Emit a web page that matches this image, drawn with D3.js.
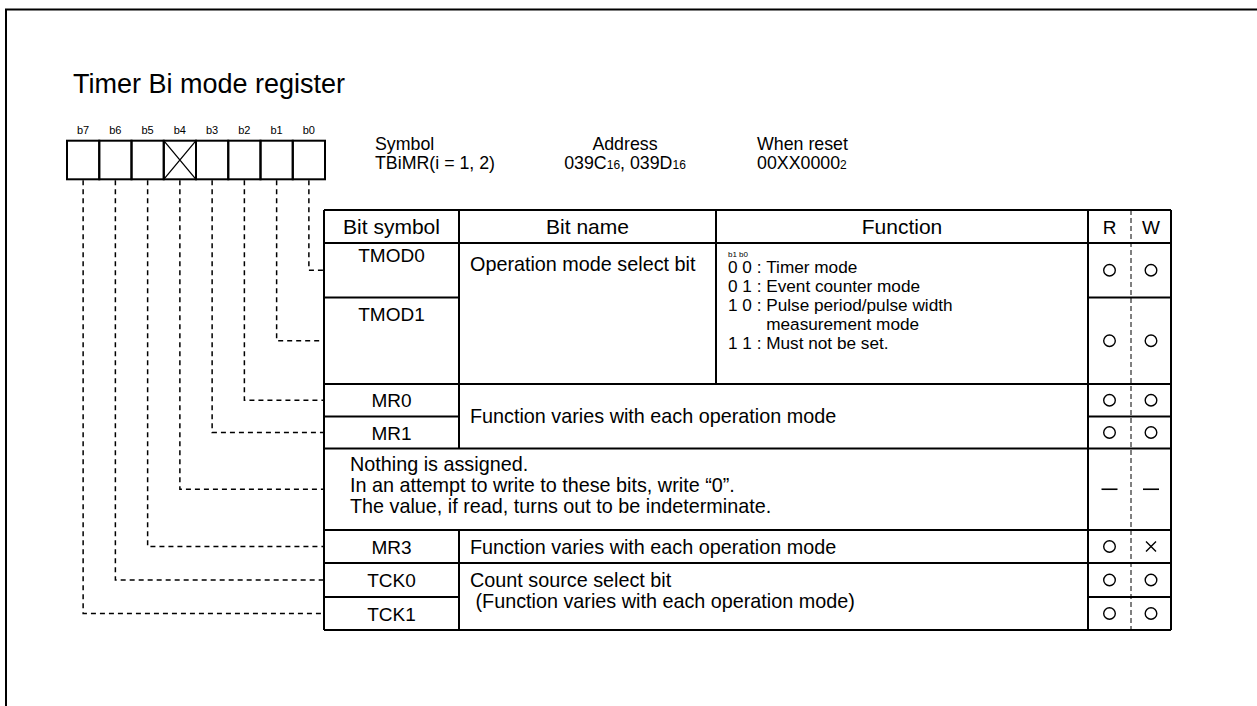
<!DOCTYPE html>
<html><head><meta charset="utf-8">
<script src="https://cdn.jsdelivr.net/npm/d3@7"></script>
<style>
body{margin:0;background:#fff}
svg{display:block}
text{font-family:"Liberation Sans",Arial,Helvetica,sans-serif;fill:#000}
</style>
</head><body>
<svg id="c" width="1257" height="706"></svg>
<script>
// ---------- data ----------
const title = "Timer Bi mode register";
const bitLabels = ["b7","b6","b5","b4","b3","b2","b1","b0"];
const reservedBits = ["b4"];
const infoHeads = ["Symbol","Address","When reset"];
const infoValues = [
  [["TBiMR(i = 1, 2)",0]],
  [["039C",0],["16",1],[", 039D",0],["16",1]],
  [["00XX0000",0],["2",1]]
];
const headers = ["Bit symbol","Bit name","Function","R","W"];
const rowSymbols = ["TMOD0","TMOD1","MR0","MR1","","MR3","TCK0","TCK1"];
const rowBits    = ["b0","b1","b2","b3","b4","b5","b6","b7"];
const readMarks  = ["O","O","O","O","-","O","O","O"];
const writeMarks = ["O","O","O","O","-","X","O","O"];
const bitNameGroups = [
  {rows:[0,1], kind:"nameFunc", name:["Operation mode select bit"]},
  {rows:[2,3], kind:"span", name:["Function varies with each operation mode"]},
  {rows:[4,4], kind:"full", name:["Nothing is assigned.","In an attempt to write to these bits, write \u201c0\u201d.","The value, if read, turns out to be indeterminate."]},
  {rows:[5,5], kind:"span", name:["Function varies with each operation mode"]},
  {rows:[6,7], kind:"span2", name:["Count source select bit"," (Function varies with each operation mode)"]}
];
const funcHeader = "b1 b0";
const funcLines = [
  ["0 0 : ","Timer mode"],
  ["0 1 : ","Event counter mode"],
  ["1 0 : ","Pulse period/pulse width"],
  ["","measurement mode"],
  ["1 1 : ","Must not be set."]
];

// ---------- layout ----------
const svg = d3.select("#c");

// outer frame
svg.append("path").attr("d","M6,720V9.5H1270").attr("fill","none").attr("stroke","#000").attr("stroke-width",2);

svg.append("text").attr("x",73).attr("y",93).attr("font-size",27).text(title);

// register boxes
const xBit = d3.scaleBand().domain(bitLabels).range([67,325]);
const boxTop = 140.7, boxBot = 179.3;
const reg = svg.append("g");
reg.selectAll("text.bl").data(bitLabels).join("text")
  .attr("x",d=>xBit(d)+xBit.bandwidth()/2).attr("y",134)
  .attr("text-anchor","middle").attr("font-size",11).text(d=>d);
reg.selectAll("rect.cell").data(bitLabels).join("rect")
  .attr("x",d=>xBit(d)).attr("y",boxTop).attr("width",xBit.bandwidth()).attr("height",boxBot-boxTop)
  .attr("fill","none").attr("stroke","#000").attr("stroke-width",2);
reservedBits.forEach(b=>{
  const x0=xBit(b), x1=x0+xBit.bandwidth();
  reg.append("path").attr("d",`M${x0},${boxTop}L${x1},${boxBot}M${x1},${boxTop}L${x0},${boxBot}`)
    .attr("stroke","#000").attr("stroke-width",1.3).attr("fill","none");
});

// info block
const infoFS = 17.8, subFS = 12;
const infoX = [{x:375,a:"start"},{x:625,a:"middle"},{x:757,a:"start"}];
infoHeads.forEach((h,i)=>{
  svg.append("text").attr("x",infoX[i].x).attr("y",150).attr("text-anchor",infoX[i].a).attr("font-size",infoFS).text(h);
  const t = svg.append("text").attr("x",infoX[i].x).attr("y",168.5).attr("text-anchor",infoX[i].a).attr("font-size",infoFS);
  infoValues[i].forEach(([s,sub])=>{ t.append("tspan").attr("font-size",sub?subFS:infoFS).text(s); });
});

// table
const colX = [324,459,716,1088,1131,1171];
const rowY = [210,243,297.5,384,416.5,448.5,530,563,597,630];
const xc = d3.scaleLinear().domain(d3.range(colX.length)).range(colX);
const yr = d3.scaleLinear().domain(d3.range(rowY.length)).range(rowY);
const rowTop = r=>yr(r+1), rowBot = r=>yr(r+2), rowMid = r=>(yr(r+1)+yr(r+2))/2;

const tbl = svg.append("g").attr("stroke","#000").attr("fill","none");
const seg = (x1,y1,x2,y2,w,dash)=>tbl.append("line").attr("x1",x1).attr("y1",y1).attr("x2",x2).attr("y2",y2)
   .attr("stroke-width",w||2).attr("stroke-dasharray",dash||null);

seg(xc(0),yr(0),xc(5),yr(0));
seg(xc(0),yr(1),xc(5),yr(1));
bitNameGroups.forEach(g=>{
  seg(xc(0),rowBot(g.rows[1]),xc(5),rowBot(g.rows[1]));
  for(let r=g.rows[0]; r<g.rows[1]; r++){
    seg(xc(0),rowBot(r),xc(1),rowBot(r));
    seg(xc(3),rowBot(r),xc(5),rowBot(r));
  }
});
seg(xc(0),yr(0),xc(0),yr(9));
seg(xc(3),yr(0),xc(3),yr(9));
seg(xc(5),yr(0),xc(5),yr(9));
seg(xc(4),yr(0),xc(4),yr(9),1,"5,3");
seg(xc(2),yr(0),xc(2),yr(1));
seg(xc(1),yr(0),xc(1),yr(1));
bitNameGroups.forEach(g=>{
  if(g.kind!=="full") seg(xc(1),rowTop(g.rows[0]),xc(1),rowBot(g.rows[1]));
  if(g.kind==="nameFunc") seg(xc(2),rowTop(g.rows[0]),xc(2),rowBot(g.rows[1]));
});

// header texts
const hdrCols = [[0,1],[1,2],[2,3],[3,4],[4,5]];
svg.selectAll("text.hd").data(headers).join("text")
  .attr("x",(d,i)=>(xc(hdrCols[i][0])+xc(hdrCols[i][1]))/2).attr("y",yr(0)+24)
  .attr("text-anchor","middle").attr("font-size",(d,i)=>i<3?21:19).text(d=>d);

// bit symbols
const symOff = [19,23];
svg.selectAll("text.sym").data(rowSymbols).join("text")
  .attr("x",(xc(0)+xc(1))/2)
  .attr("y",(d,i)=> i<2 ? rowTop(i)+symOff[i] : rowMid(i)+7)
  .attr("text-anchor","middle").attr("font-size",19).text(d=>d);

// bit names
const nameFS = 19.8;
bitNameGroups.forEach(g=>{
  const top = rowTop(g.rows[0]), bot = rowBot(g.rows[1]);
  const x = g.kind==="full" ? xc(0)+26 : xc(1)+11;
  let lh = 21, y0;
  if(g.kind==="nameFunc") y0 = top+28;
  else if(g.kind==="full") y0 = top+22;
  else if(g.kind==="span2") { lh = 20.5; y0 = top+24; }
  else y0 = (top+bot)/2 + 7;
  g.name.forEach((s,k)=>{
    svg.append("text").attr("x",x).attr("y",y0+k*lh).attr("font-size",nameFS).style("white-space","pre").text(s);
  });
});

// function column (TMOD)
const fx = xc(2)+12, funcFS = 17.2;
svg.append("text").attr("x",fx).attr("y",rowTop(0)+14).attr("font-size",8).text(funcHeader);
const probe = svg.append("text").attr("font-size",funcFS).style("white-space","pre").text(funcLines[2][0]);
const indent = probe.node().getComputedTextLength(); probe.remove();
funcLines.forEach((l,k)=>{
  const y = rowTop(0)+30+k*19;
  if(l[0]) svg.append("text").attr("x",fx).attr("y",y).attr("font-size",funcFS).style("white-space","pre").text(l[0]);
  svg.append("text").attr("x",fx+indent).attr("y",y).attr("font-size",funcFS).text(l[1]);
});

// R/W marks
function mark(m,cx,cy){
  const g = svg.append("g").attr("stroke","#000").attr("fill","none").attr("stroke-width",1.4);
  if(m==="O") g.append("circle").attr("cx",cx).attr("cy",cy).attr("r",5.8);
  else if(m==="-") g.append("line").attr("x1",cx-8).attr("x2",cx+8).attr("y1",cy).attr("y2",cy).attr("stroke-width",1.6);
  else if(m==="X") g.append("path").attr("d",`M${cx-5},${cy-5}L${cx+5},${cy+5}M${cx+5},${cy-5}L${cx-5},${cy+5}`);
}
rowSymbols.forEach((s,i)=>{
  mark(readMarks[i],(xc(3)+xc(4))/2,rowMid(i));
  mark(writeMarks[i],(xc(4)+xc(5))/2,rowMid(i));
});

// dashed connectors
rowBits.forEach((b,i)=>{
  const x = xBit(b)+xBit.bandwidth()/2;
  svg.append("path").attr("d",`M${x},${boxBot+1}V${rowMid(i)}H${xc(0)}`)
    .attr("fill","none").attr("stroke","#000").attr("stroke-width",1.5).attr("stroke-dasharray","5,4");
});
</script>
</body></html>
